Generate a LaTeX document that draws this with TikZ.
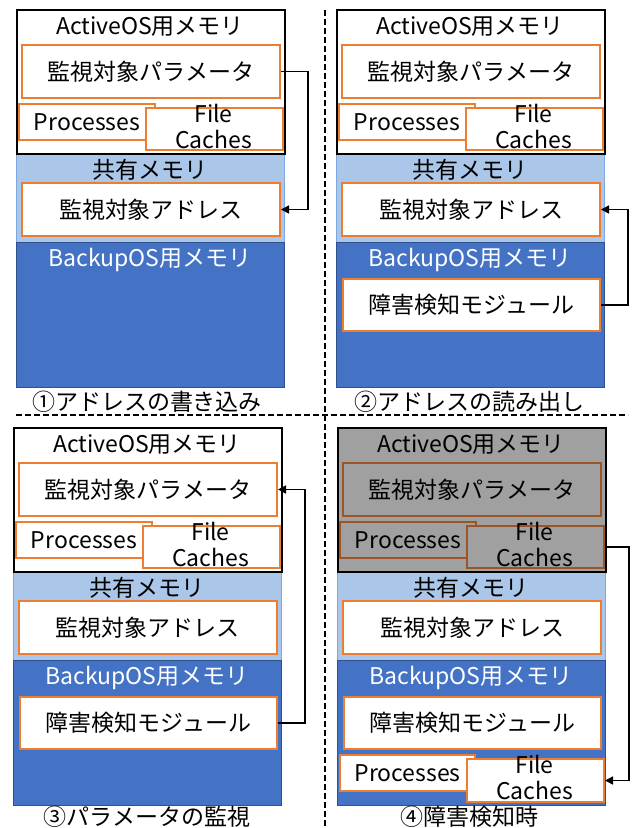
\documentclass[tikz,border=0pt]{standalone}
\usepackage{fontspec}
\setmainfont{Noto Sans CJK JP}
\usetikzlibrary{arrows.meta}
\definecolor{boxorange}{HTML}{ED7D31}
\definecolor{boxorangedark}{HTML}{9C5526}
\definecolor{sharedfill}{HTML}{AAC6E8}
\definecolor{sharedline}{HTML}{7DA7DE}
\definecolor{backfill}{HTML}{4472C4}
\definecolor{backline}{HTML}{2F528F}
\definecolor{grayfill}{HTML}{A0A0A0}
\tikzset{
  region/.style={anchor=north west, inner sep=0pt, minimum width=268pt},
  activebox/.style={region, draw=black, line width=1.5pt, fill=white, minimum height=144pt},
  activegray/.style={region, draw=black, line width=1.5pt, fill=grayfill, minimum height=144pt},
  sharedbox/.style={region, draw=sharedline, line width=1pt, fill=sharedfill, minimum height=89pt},
  backupbox/.style={region, draw=backline, line width=1pt, fill=backfill, minimum height=145pt},
  obox/.style={anchor=north west, inner sep=0pt, draw=boxorange, line width=2pt, fill=white},
  oboxgray/.style={anchor=north west, inner sep=0pt, draw=boxorangedark, line width=2pt, fill=grayfill},
  title/.style={inner sep=0pt},
  conn/.style={draw=black, line width=1.5pt, -{Triangle[length=8pt,width=8pt]}},
  divider/.style={draw=black, line width=2pt, dash pattern=on 6pt off 3pt},
}
\newcommand\mempanel[5]{%
  \begin{scope}[shift={(#1,#2)}]
    \node[sharedbox] (#3shared) at (0,144) {};
    \node[backupbox] (#3backup) at (0,233) {};
    \node[#4] (#3active) at (0,0) {};
    \node[title] (#3atitle) at (134,18) {ActiveOS用メモリ};
    \node[#5, minimum width=258pt, minimum height=53pt] (#3param) at (5,35) {監視対象パラメータ};
    \node[#5, minimum width=136pt, minimum height=36pt] (#3proc) at (2,94) {Processes};
    \node[#5, minimum width=137pt, minimum height=42pt] (#3fc) at (129,98) {};
    \node[title, align=center] (#3fctext) at (197.5,117) {File\\Caches};
    \node[title] (#3stitle) at (134,161) {共有メモリ};
    \node[obox, minimum width=258pt, minimum height=53pt] (#3addr) at (5,173) {監視対象アドレス};
    \node[title, text=white] (#3btitle) at (134,251) {BackupOS用メモリ};
    \coordinate (#3turn) at (292,0);
  \end{scope}}
\newcommand\modulebox[3]{%
  \begin{scope}[shift={(#1,#2)}]
    \node[obox, minimum width=257pt, minimum height=52pt] (#3module) at (6,269) {障害検知モジュール};
  \end{scope}}
\begin{document}
\begin{tikzpicture}[x=1pt,y=-1pt,font=\fontsize{23}{26}\selectfont]
\useasboundingbox (0,0) rectangle (632,828);
% dividers
\coordinate (hl) at (16,415);
\coordinate (hr) at (628,415);
\coordinate (vt) at (325,10);
\coordinate (vb) at (325,828);
\draw[divider] (hl) -- (hr);
\draw[divider] (vt) -- (vb);
% panel 1
\mempanel{16}{9}{p1}{activebox}{obox}
\node[title] (cap1) at (147,402) {①アドレスの書き込み};
\draw[conn] (p1param.east) -- (p1param.east -| p1turn) |- (p1addr.east);
% panel 2
\mempanel{336}{9}{p2}{activebox}{obox}
\modulebox{336}{9}{p2}
\node[title] (cap2) at (469,402) {②アドレスの読み出し};
\draw[conn] (p2module.east) -- (p2module.east -| p2turn) |- (p2addr.east);
% panel 3
\mempanel{13}{427}{p3}{activebox}{obox}
\modulebox{13}{427}{p3}
\node[title] (cap3) at (147,817) {③パラメータの監視};
\draw[conn] (p3module.east) -- (p3module.east -| p3turn) |- (p3param.east);
% panel 4
\mempanel{337}{427}{p4}{activegray}{oboxgray}
\modulebox{337}{427}{p4}
\begin{scope}[shift={(337,427)}]
  \node[obox, minimum width=135pt, minimum height=36pt] (p4lproc) at (2,327) {Processes};
  \node[obox, minimum width=137pt, minimum height=43pt] (p4lfc) at (129,331) {};
  \node[title, align=center] (p4lfctext) at (197.5,350) {File\\Caches};
\end{scope}
\node[title] (cap4) at (469,817) {④障害検知時};
\draw[conn] (p4fc.east) -- (p4fc.east -| p4turn) |- (p4lfc.east);
\end{tikzpicture}
\end{document}
